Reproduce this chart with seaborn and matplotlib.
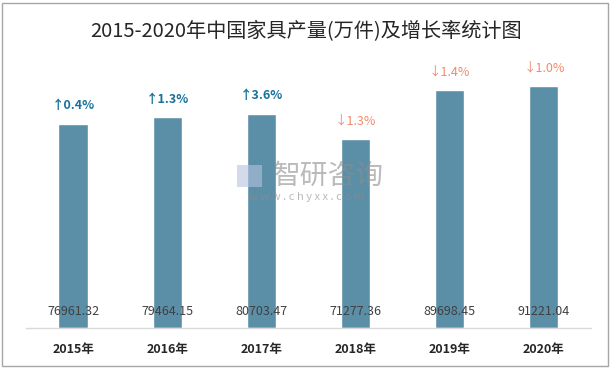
import pandas as pd
import matplotlib.pyplot as plt
import seaborn as sns
from matplotlib.patches import Rectangle

# dados
anos = ["2015年", "2016年", "2017年", "2018年", "2019年", "2020年"]
producao = [76961.32, 79464.15, 80703.47, 71277.36, 89698.45, 91221.04]
crescimento = ["↑0.4%", "↑1.3%", "↑3.6%", "↓1.3%", "↓1.4%", "↓1.0%"]

df = pd.DataFrame({"ano": anos, "producao": producao})

sns.set_theme(style="white")
plt.rcParams['font.family'] = ['Noto Sans CJK SC', 'DejaVu Sans']

fig = plt.figure(figsize=(6.13, 3.7), dpi=100)
ax = fig.add_axes([0.0424, 0.1135, 0.9216, 0.7245])

sns.barplot(data=df, x="ano", y="producao", color="#5b8fa7", width=0.31,
            saturation=1, ax=ax)

ax.set_ylim(0, 101000)
ax.set_xlim(-0.5, len(anos) - 0.5)
ax.set_xlabel("")
ax.set_ylabel("")
ax.set_yticks([])
for lado in ["top", "left", "right"]:
    ax.spines[lado].set_visible(False)
ax.spines["bottom"].set_color("#d9d9d9")
ax.spines["bottom"].set_linewidth(1)
ax.tick_params(axis="x", length=0, pad=11)
for rotulo in ax.get_xticklabels():
    rotulo.set_fontsize(9)
    rotulo.set_fontweight("bold")
    rotulo.set_color("#262626")

# valores dentro das barras e taxa de crescimento acima
for i, (v, g) in enumerate(zip(producao, crescimento)):
    ax.annotate(f"{v:.2f}", (i, 0), xytext=(0, 12), textcoords="offset points",
                ha="center", va="center", fontsize=9, color="#404040")
    sobe = g.startswith("↑")
    ax.annotate(g, (i, v), xytext=(0, 13), textcoords="offset points",
                ha="center", va="center", fontsize=9,
                fontweight="bold" if sobe else "normal",
                color="#17729c" if sobe else "#f28a6b")

# marca d'água (por cima das barras)
ax.text(0.535, 0.525, "智研咨询", transform=fig.transFigure, ha="center",
        va="center", fontsize=20, color="#8c8c8c", alpha=0.6, zorder=10)
ax.text(0.5, 0.468, "w w w . c h y x x . c o m", transform=fig.transFigure,
        ha="center", va="center", fontsize=8, color="#8c8c8c", alpha=0.6,
        zorder=10)
ax.add_patch(Rectangle((0.387, 0.494), 0.04, 0.06, transform=fig.transFigure,
                       facecolor="#b4c2de", edgecolor="none", alpha=0.6,
                       zorder=10, clip_on=False))

fig.suptitle("2015-2020年中国家具产量(万件)及增长率统计图", y=0.916, va="center",
             fontsize=14.5, color="#262626")

fig.patches.append(Rectangle((0.004, 0.012), 0.988, 0.98, transform=fig.transFigure,
                             fill=False, edgecolor="#a6a6a6", linewidth=1))

fig.savefig("out.png", dpi=100)
